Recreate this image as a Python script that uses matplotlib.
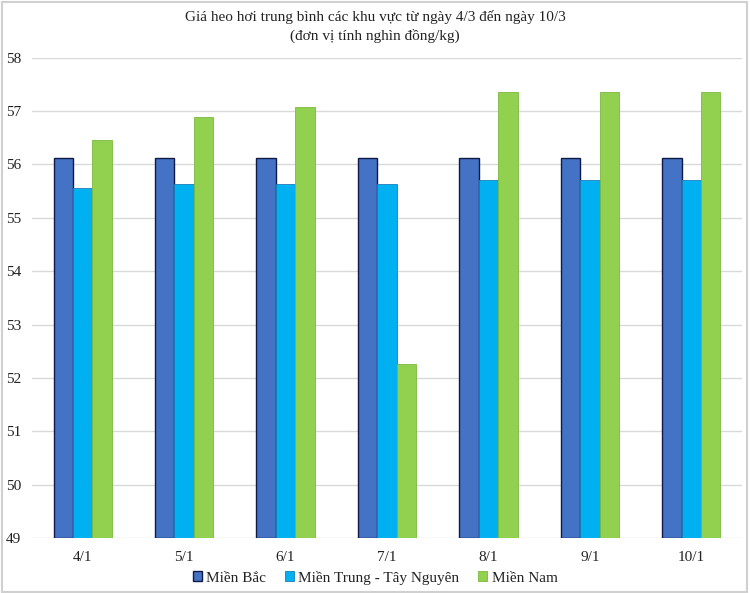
import matplotlib
matplotlib.use("Agg")
import matplotlib.pyplot as plt
import numpy as np

plt.rcParams['font.family'] = ['Liberation Serif', 'DejaVu Serif']

categories = ["4/1", "5/1", "6/1", "7/1", "8/1", "9/1", "10/1"]
mien_bac = [56.13, 56.13, 56.13, 56.13, 56.13, 56.13, 56.13]
mien_trung = [55.55, 55.63, 55.63, 55.63, 55.71, 55.71, 55.71]
mien_nam = [56.46, 56.88, 57.08, 52.26, 57.35, 57.35, 57.35]
series_names = ["Miền Bắc", "Miền Trung - Tây Nguyên", "Miền Nam"]
yticks = [49, 50, 51, 52, 53, 54, 55, 56, 57, 58]

fig = plt.figure(figsize=(7.5, 5.93), dpi=100)
ax = fig.add_axes([0.0427, 0.0927, 0.9466, 0.81])

x = np.arange(len(categories))
w = 0.192
ax.bar(x - w, np.array(mien_bac) - 49, w, bottom=49, color="#4472C4",
       edgecolor="#0F1B45", linewidth=1.0, label=series_names[0], zorder=3)
ax.bar(x, np.array(mien_trung) - 49, w, bottom=49, color="#00B0F0",
       edgecolor="#1A7FB8", linewidth=0.6, label=series_names[1], zorder=3)
ax.bar(x + w, np.array(mien_nam) - 49, w, bottom=49, color="#92D050",
       edgecolor="#7DB83E", linewidth=0.6, label=series_names[2], zorder=3)

ax.set_xlim(-0.5, len(categories) - 0.5)
ax.set_ylim(49, 58)
ax.set_yticks(yticks)
ax.set_yticklabels([str(v) for v in yticks], fontsize=11, color="#222222")
ax.set_xticks(x)
ax.set_xticklabels(categories, fontsize=11, color="#222222")
ax.tick_params(axis='both', length=0)
ax.tick_params(axis='y', pad=8)
ax.tick_params(axis='x', pad=9)
ax.grid(axis='y', color="#D9D9D9", linewidth=1.0, zorder=0)
for s in ax.spines.values():
    s.set_visible(False)

fig.text(0.5, 0.971, "Giá heo hơi trung bình các khu vực từ ngày 4/3 đến ngày 10/3",
         ha='center', va='center', fontsize=11, color="#222222")
fig.text(0.5, 0.94, "(đơn vị tính nghìn đồng/kg)",
         ha='center', va='center', fontsize=11, color="#222222")

leg = fig.legend(loc='center', bbox_to_anchor=(0.5, 0.026), ncol=3, frameon=False,
                 fontsize=11, handlelength=0.6, handleheight=0.6, handletextpad=0.3,
                 columnspacing=1.2)
for t in leg.get_texts():
    t.set_color("#222222")

fig.patches.append(plt.Rectangle((0.002, 0.002), 0.994, 0.994, transform=fig.transFigure,
                                 fill=False, edgecolor="#D0D0D0", linewidth=1.5))

fig.savefig("out.png", dpi=100)
